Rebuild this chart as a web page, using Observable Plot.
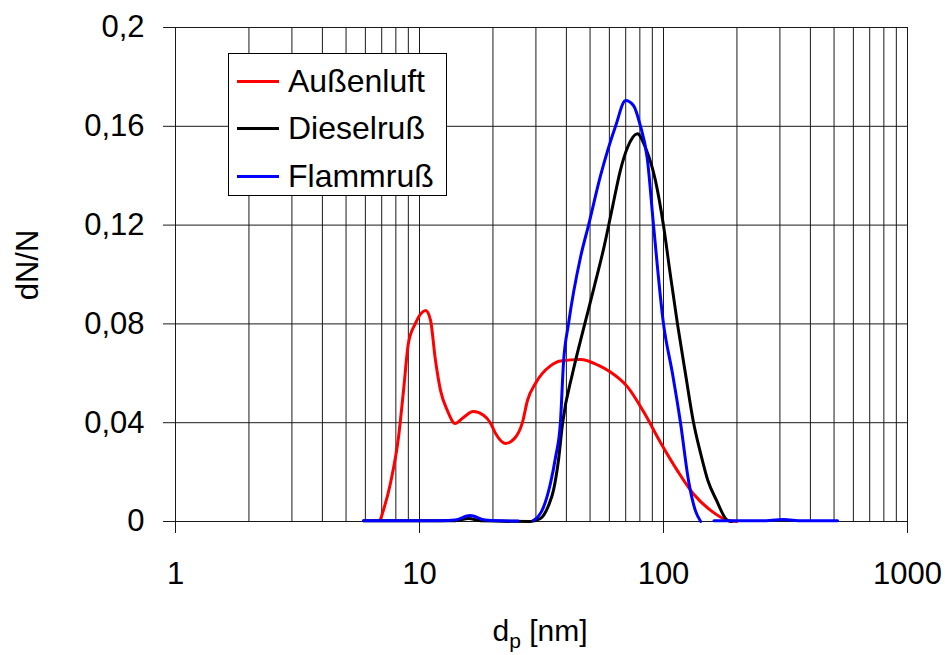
<!DOCTYPE html>
<html>
<head>
<meta charset="utf-8">
<script src="https://cdn.jsdelivr.net/npm/d3@7"></script>
<script src="https://cdn.jsdelivr.net/npm/@observablehq/plot@0.6"></script>
<style>
  body { margin: 0; background: #fff; }
  #wrap { position: relative; width: 945px; height: 655px; font-family: "Liberation Sans", Arial, sans-serif; }
  .legend { position: absolute; left: 228px; top: 53px; width: 219px; height: 143px; border: 1.5px solid #000; background: #fff; box-sizing: border-box; }
  .row { position: absolute; left: 0; height: 40px; display: flex; align-items: center; font-size: 32px; color: #000; }
  .sw { width: 42px; height: 3px; margin-left: 8px; margin-right: 9px; }
</style>
</head>
<body>
<div id="wrap"></div>
<script>
// ---- data ----
const seriesNames = ["Außenluft", "Dieselruß", "Flammruß"];
const seriesColors = ["#ff0000", "#000000", "#0000ff"];

const xTicks = [1, 10, 100, 1000];
const yTicks = [0, 0.04, 0.08, 0.12, 0.16, 0.2];

const redX = [6.9, 7.6, 8.2, 8.6, 9.0, 9.6, 10.6, 11.1, 11.6, 12.2, 13.0, 14.0, 15.1, 16.6, 18.3, 19.5, 20.5, 22.5, 24.7, 26.4, 27.7, 29.9, 34.4, 37.8, 45.7, 54.2, 60.6, 71.2, 82.8, 97.2, 114, 133, 156, 183, 200];
const redY = [0.0004, 0.0154, 0.034, 0.053, 0.072, 0.080, 0.0854, 0.0814, 0.066, 0.053, 0.045, 0.0397, 0.042, 0.0445, 0.043, 0.040, 0.0356, 0.0316, 0.034, 0.040, 0.049, 0.056, 0.063, 0.065, 0.0656, 0.0632, 0.0605, 0.0545, 0.0445, 0.032, 0.0206, 0.011, 0.0045, 0.0005, 0];

const blackX = [5.9, 10.1, 14.0, 15.9, 17.8, 28.5, 31.3, 33.8, 35.4, 37.1, 38.6, 42.4, 47.0, 52.0, 57.0, 62.0, 66.5, 71.2, 78.2, 84.3, 92.7, 100, 106.5, 114, 123, 133, 142, 152, 165, 183, 190];
const blackY = [0.0003, 0.0003, 0.0003, 0.0012, 0.0003, 0, 0.0012, 0.0065, 0.0126, 0.0247, 0.040, 0.060, 0.078, 0.095, 0.111, 0.128, 0.142, 0.1514, 0.157, 0.1514, 0.138, 0.1198, 0.1004, 0.0802, 0.0599, 0.0397, 0.0275, 0.0166, 0.0085, 0.0004, 0];

const blueX = [5.9, 12.2, 14.0, 16.1, 18.6, 21.5, 25.4, 27.0, 29.3, 32.2, 34.4, 36.1, 37.8, 38.9, 40.8, 45.7, 49.3, 55.2, 63.6, 69.9, 75.3, 80.0, 85.8, 91.0, 100, 108.8, 117.4, 126.6, 135, 142, 150, 161, 250, 310, 370, 517];
const blueY = [0.0003, 0.0003, 0.0006, 0.0024, 0.0006, 0.0003, 0.0002, NaN, 0.0004, 0.0057, 0.0154, 0.026, 0.040, 0.064, 0.080, 0.107, 0.120, 0.140, 0.160, 0.1704, 0.1684, 0.161, 0.147, 0.120, 0.080, 0.060, 0.040, 0.0166, 0.0045, 0, NaN, 0.0003, 0.0003, 0.0008, 0.0003, 0.0003];

const xGrid = [1,2,3,4,5,6,7,8,9,10,20,30,40,50,60,70,80,90,100,200,300,400,500,600,700,800,900,1000];

// ---- build ----
const toRows = (xs, ys) => xs.map((x, i) => ({x, y: ys[i]}));
const redData = toRows(redX, redY);
const blackData = toRows(blackX, blackY);
const blueData = toRows(blueX, blueY);

const fmtY = d => d === 0 ? "0" : String(+d.toFixed(2)).replace(".", ",");

const font = "Liberation Sans, Arial, sans-serif";
const plot = Plot.plot({
  width: 945,
  height: 655,
  marginLeft: 175,
  marginRight: 38,
  marginTop: 27,
  marginBottom: 134,
  style: {fontFamily: font, fontSize: "31px", color: "#000", background: "#fff", overflow: "visible"},
  x: {type: "log", domain: [1, 1000]},
  y: {domain: [0, 0.2]},
  marks: [
    Plot.ruleX(xGrid, {stroke: "#1a1a1a", strokeWidth: 1}),
    Plot.ruleY(yTicks, {stroke: "#1a1a1a", strokeWidth: 1}),
    Plot.axisX(xTicks, {tickSize: 12, tickPadding: 28, tickFormat: d => String(d), label: null, stroke: "#1a1a1a", strokeOpacity: 1}),
    Plot.axisY(yTicks, {tickSize: 12, tickPadding: 19, tickFormat: fmtY, label: null, stroke: "#1a1a1a", strokeOpacity: 1}),
    Plot.line(redData, {x: "x", y: "y", stroke: seriesColors[0], strokeWidth: 3, curve: "monotone-x"}),
    Plot.line(blackData, {x: "x", y: "y", stroke: seriesColors[1], strokeWidth: 3, curve: "monotone-x"}),
    Plot.line(blueData, {x: "x", y: "y", stroke: seriesColors[2], strokeWidth: 3, curve: "monotone-x"})
  ]
});

const wrap = document.getElementById("wrap");
wrap.appendChild(plot);

const svg = d3.select(plot);
// x axis title with subscript
const xt = svg.append("text")
  .attr("x", 540).attr("y", 641)
  .attr("text-anchor", "middle")
  .attr("font-family", font).attr("font-size", 30).attr("fill", "#000");
xt.append("tspan").text("d");
xt.append("tspan").attr("font-size", 21).attr("dy", 7).text("p");
xt.append("tspan").attr("dy", -7).text(" [nm]");

// y axis title
svg.append("text")
  .attr("transform", "translate(38,265) rotate(-90)")
  .attr("text-anchor", "middle")
  .attr("font-family", font).attr("font-size", 31).attr("fill", "#000")
  .text("dN/N");

// legend (inside plot area)
const legend = document.createElement("div");
legend.className = "legend";
const rowCenters = [27, 74, 122];
seriesNames.forEach((name, i) => {
  const row = document.createElement("div");
  row.className = "row";
  row.style.top = (rowCenters[i] - 20) + "px";
  const sw = document.createElement("div");
  sw.className = "sw";
  sw.style.background = seriesColors[i];
  const t = document.createElement("span");
  t.textContent = name;
  row.appendChild(sw);
  row.appendChild(t);
  legend.appendChild(row);
});
wrap.appendChild(legend);
</script>
</body>
</html>
